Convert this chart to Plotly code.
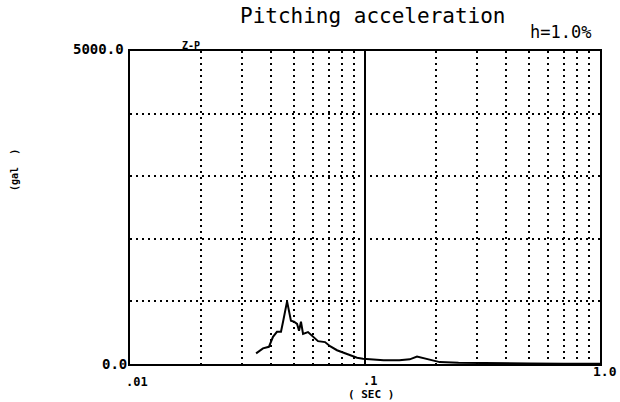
import plotly.graph_objects as go

# Response spectrum (period in sec, acceleration in gal)
period = [0.0344, 0.0368, 0.0390, 0.0406, 0.0422, 0.0439, 0.0448, 0.0466, 0.0484,
          0.0499, 0.0514, 0.0524, 0.0534, 0.0545, 0.0572, 0.0601, 0.0631, 0.0676,
          0.0710, 0.0760, 0.0806, 0.0863, 0.0925, 0.0980, 0.107, 0.120, 0.140,
          0.155, 0.1665, 0.1835, 0.208, 0.25, 0.30, 0.40, 0.50, 0.70, 1.0]
accel = [170, 250, 275, 435, 515, 515, 675, 1000, 690,
         675, 640, 530, 675, 480, 510, 430, 365, 350,
         285, 220, 185, 135, 100, 85, 70, 60, 60,
         75, 120, 80, 30, 20, 15, 10, 8, 5, 4]

x_major = [0.01, 0.1, 1.0]
x_minor = [0.02, 0.03, 0.04, 0.05, 0.06, 0.07, 0.08, 0.09,
           0.2, 0.3, 0.4, 0.5, 0.6, 0.7, 0.8, 0.9]
y_grid = [0, 1000, 2000, 3000, 4000, 5000]

title_text = "Pitching acceleration"
damping_text = "h=1.0%"
comp_text = "Z-P"
ylabel_text = "(gal  )"
xlabel_text = "( SEC )"
xtick_text = [".01", ".1", "1.0"]
ytick_text = ["0.0", "5000.0"]

MONO = "DejaVu Sans Mono"
BLACK = "black"

fig = go.Figure()
fig.add_trace(go.Scatter(x=period, y=accel, mode="lines",
                         line=dict(color=BLACK, width=2), showlegend=False,
                         hoverinfo="skip"))

fig.update_layout(
    width=620, height=402,
    margin=dict(l=130, r=20, t=51, b=38),
    paper_bgcolor="white", plot_bgcolor="white",
    showlegend=False, hovermode=False,
    xaxis=dict(type="log", range=[-2, 0], tickvals=x_major, showticklabels=False,
               ticks="", showgrid=True, gridcolor=BLACK, gridwidth=1.5,
               showline=True, linecolor=BLACK, linewidth=2, mirror=True,
               zeroline=False,
               minor=dict(tickvals=x_minor, showgrid=True, gridcolor=BLACK,
                          gridwidth=2, griddash="2px,4px", ticks="")),
    yaxis=dict(range=[0, 5000], tickvals=y_grid, showticklabels=False, ticks="",
               showgrid=True, gridcolor=BLACK, gridwidth=2, griddash="2px,4px",
               showline=True, linecolor=BLACK, linewidth=2, mirror=True,
               zeroline=False),
)

def txt(text, size, bold=True, **kw):
    t = "<b>" + text + "</b>" if bold else text
    fig.add_annotation(text=t, showarrow=False,
                       font=dict(family=MONO, size=size, color=BLACK), **kw)

# title and header texts
txt(title_text, 21, bold=False, xref="x", x=-1, xanchor="center", xshift=8,
    yref="paper", y=1.0, yanchor="middle", yshift=35)
txt(damping_text, 17, bold=False, xref="paper", x=1.0, xanchor="right", xshift=-7,
    yref="paper", y=1.0, yanchor="middle", yshift=19)
txt(comp_text, 10, xref="x", x=-1.74, xanchor="center",
    yref="paper", y=1.0, yanchor="middle", yshift=6)
# axis titles
txt(ylabel_text, 10, xref="paper", x=0, xanchor="center", xshift=-115,
    yref="paper", y=0.62, yanchor="middle", textangle=-90)
txt(xlabel_text, 11, xref="x", x=-1, xanchor="center", xshift=6,
    yref="paper", y=0, yanchor="middle", yshift=-30)
# x tick labels
txt(xtick_text[0], 12, xref="x", x=-2, xanchor="center", xshift=7,
    yref="paper", y=0, yanchor="middle", yshift=-18)
txt(xtick_text[1], 12, xref="x", x=-1, xanchor="center", xshift=5,
    yref="paper", y=0, yanchor="middle", yshift=-17)
txt(xtick_text[2], 13, xref="paper", x=1.0, xanchor="right", xshift=19,
    yref="paper", y=0, yanchor="middle", yshift=-7)
# y tick labels
txt(ytick_text[0], 14, xref="paper", x=0, xanchor="right", xshift=-1,
    yref="y", y=y_grid[0], yanchor="middle")
txt(ytick_text[1], 14, xref="paper", x=0, xanchor="right", xshift=-4,
    yref="y", y=y_grid[-1], yanchor="middle", yshift=2)

fig.write_html("out.html",
               config={"displayModeBar": False, "staticPlot": True},
               post_script="document.body.style.margin='0';"
                           "document.body.style.overflow='hidden';")
